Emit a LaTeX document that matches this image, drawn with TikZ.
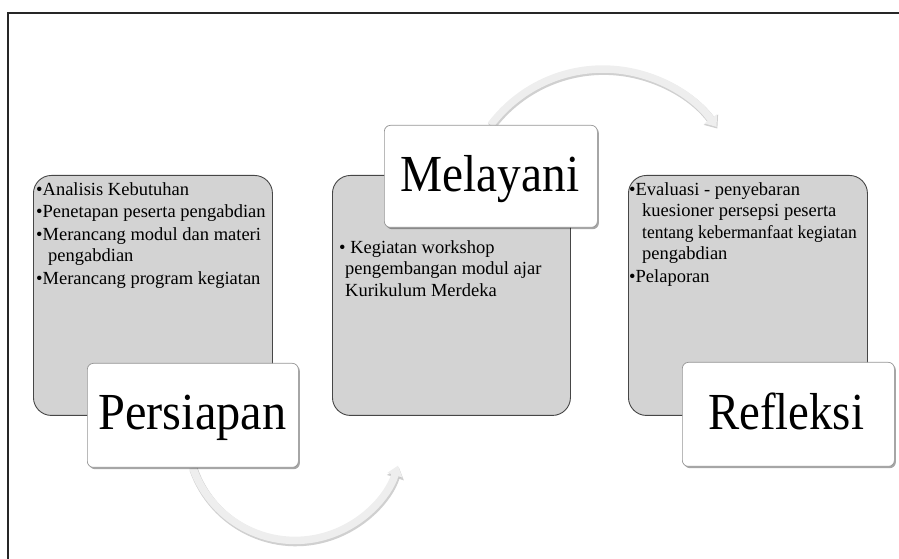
\documentclass[tikz,border=0pt]{standalone}
\usepackage{fontspec}
\setmainfont{Liberation Serif}
\usetikzlibrary{arrows.meta,shadows}
\definecolor{boxgray}{RGB}{211,211,211}
\definecolor{boxedge}{RGB}{70,70,70}
\definecolor{lbledge}{RGB}{150,150,150}
\definecolor{bandlight}{RGB}{238,238,238}
\definecolor{bandshadow}{RGB}{196,196,196}
\begin{document}
\begin{tikzpicture}[x=1pt,y=1pt,
  phasebox/.style={draw=boxedge, line width=0.9pt, fill=boxgray, rounded corners=18pt, anchor=north west, inner sep=0pt},
  lblbox/.style={draw=lbledge, line width=0.7pt, fill=white, rounded corners=6pt, anchor=north west, inner sep=0pt,
     drop shadow={shadow xshift=1.5pt, shadow yshift=-1.8pt, opacity=0.35, fill=black}},
  bigtext/.style={anchor=base, inner sep=0pt, font=\fontsize{52}{60}\selectfont},
  bodytext/.style={anchor=north west, inner sep=0pt, align=left, font=\fontsize{18.5}{21.5}\selectfont},
  bandshade/.style={line width=8.5pt, draw=bandshadow, opacity=0.8, -{Triangle[width=17pt,length=11pt]}},
  bandmain/.style={line width=7.5pt, draw=bandlight, -{Triangle[width=15pt,length=10pt]}}
]
\useasboundingbox (0,0) rectangle (899,559);
% frame
\draw[line width=1.6pt, black!85] (8,0) -- (8,546) -- (899,546);

% label box anchors (needed for arrows)
\path (384,434) node[anchor=north west, inner sep=0pt, minimum width=213pt, minimum height=102pt] (mellbl) {};
\path (87,196) node[anchor=north west, inner sep=0pt, minimum width=211pt, minimum height=104pt] (perslbl) {};

% arrows (behind everything)
\draw[bandshade] ([shift={(0.8,-1.6)}]perslbl.south) arc[start angle=199, end angle=342, radius=108.25];
\draw[bandmain] (perslbl.south) arc[start angle=199, end angle=342, radius=108.25];
\draw[bandshade] ([shift={(0.8,-1.6)}]mellbl.north) arc[start angle=143, end angle=36, radius=140.5];
\draw[bandmain] (mellbl.north) arc[start angle=143, end angle=36, radius=140.5];

% gray phase boxes
\node[phasebox, minimum width=239pt, minimum height=240pt] (box1) at (33,384) {};
\node[phasebox, minimum width=238pt, minimum height=240pt] (box2) at (332,384) {};
\node[phasebox, minimum width=239pt, minimum height=240pt] (box3) at (628,384) {};

% body texts
\node[bodytext] (t1) at (36,377) {%
  •Analisis Kebutuhan\\[1pt]
  •Penetapan peserta pengabdian\\[1pt]
  •Merancang modul dan materi\\
  \hspace*{12pt}pengabdian\\[1pt]
  •Merancang program kegiatan};
\node[bodytext] (t2) at (339,319) {%
  • Kegiatan workshop\\
  \hspace*{6pt}pengembangan modul ajar\\
  \hspace*{6pt}Kurikulum Merdeka};
\node[bodytext] (t3) at (629,377) {%
  •Evaluasi - penyebaran\\
  \hspace*{13pt}kuesioner persepsi peserta\\
  \hspace*{13pt}\scalebox{0.945}[1]{tentang kebermanfaat kegiatan}\\
  \hspace*{13pt}pengabdian\\[1pt]
  •Pelaporan};

% white label boxes (drawn on top)
\path (384,434) node[lblbox, minimum width=213pt, minimum height=102pt] (mel) {};
\path (87,196) node[lblbox, minimum width=211pt, minimum height=104pt] (pers) {};
\path (682,197) node[lblbox, minimum width=212pt, minimum height=104pt] (refl) {};

\node[bigtext] (meltxt) at (490,367) {\scalebox{0.91}[1]{Melayani}};
\node[bigtext] (perstxt) at (192.5,129) {\scalebox{0.93}[1]{Persiapan}};
\node[bigtext] (refltxt) at (786,129) {\scalebox{0.9}[1]{Refleksi}};
\end{tikzpicture}
\end{document}
